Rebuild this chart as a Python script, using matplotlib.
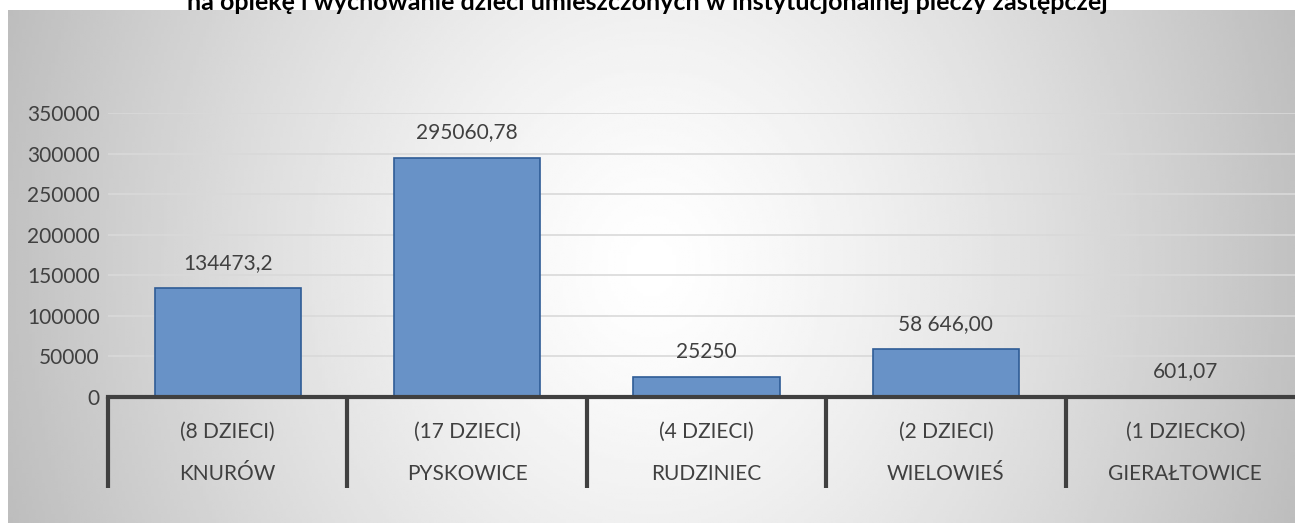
import matplotlib.pyplot as plt
import matplotlib.transforms as mtransforms
import numpy as np

# data
towns = ['KNURÓW', 'PYSKOWICE', 'RUDZINIEC', 'WIELOWIEŚ', 'GIERAŁTOWICE']
children = ['(8 DZIECI)', '(17 DZIECI)', '(4 DZIECI)', '(2 DZIECI)', '(1 DZIECKO)']
costs = [134473.2, 295060.78, 25250, 58646.00, 601.07]
cost_labels = ['134473,2', '295060,78', '25250', '58 646,00', '601,07']
yticks = [0, 50000, 100000, 150000, 200000, 250000, 300000, 350000]
title = 'na opiekę i wychowanie dzieci umieszczonych w instytucjonalnej pieczy zastępczej'

plt.rcParams['font.family'] = ['Lato', 'DejaVu Sans']
W, H = 1295, 525
fig = plt.figure(figsize=(W / 100, H / 100), dpi=100)

# radial gray background
bg = fig.add_axes([8 / W, 2 / H, 1 - 8 / W, (H - 12) / H])
xx, yy = np.meshgrid(np.linspace(-1, 1, 400), np.linspace(-1, 1, 200))
d = np.sqrt(xx ** 2 + 0.12 * yy ** 2)
shade = 1 - 0.24 * np.clip(d, 0, 1.2) ** 1.3
bg.imshow(shade, cmap='gray', vmin=0, vmax=1, aspect='auto', extent=[0, 1, 0, 1])
bg.axis('off')

fig.text(0.5, 1 - 2 / H, title, ha='center', va='center', fontsize=18,
         fontweight='bold', color='black')

x0, x1 = 108, 1305
ytop, ybot = 113, 397
ax = fig.add_axes([x0 / W, (H - ybot) / H, (x1 - x0) / W, (ybot - ytop) / H])
ax.patch.set_alpha(0)
xs = np.arange(len(towns))
ax.bar(xs, costs, width=0.61, color='#6892c7', edgecolor='#2f5c96', linewidth=1.2, zorder=3)
ax.set_xlim(-0.5, len(towns) - 0.5)
ax.set_ylim(0, 350000)
ax.set_yticks(yticks)
ax.set_yticklabels([str(v) for v in yticks], fontsize=15, color='#404040')
ax.tick_params(axis='y', length=0, pad=6)
ax.set_xticks([])
ax.grid(axis='y', color='#d9d9d9', linewidth=1.2, zorder=0)
for s in ['top', 'right', 'left']:
    ax.spines[s].set_visible(False)
ax.spines['bottom'].set_color('#404040')
ax.spines['bottom'].set_linewidth(3)
ax.spines['bottom'].set_zorder(4)

for x, v, lab in zip(xs, costs, cost_labels):
    ax.annotate(lab, (x, v), xytext=(0, 18), textcoords='offset points',
                ha='center', va='center', fontsize=15, color='#404040')

trans = mtransforms.blended_transform_factory(ax.transData, ax.transAxes)
h = ybot - ytop
for b in np.arange(-0.5, len(towns), 1.0):
    ax.plot([b, b], [0, -91 / h], transform=trans, color='#404040', lw=3,
            clip_on=False, solid_capstyle='butt')
for x, c, t in zip(xs, children, towns):
    ax.text(x, -35 / h, c, transform=trans, ha='center', va='center', fontsize=15, color='#404040')
    ax.text(x, -77 / h, t, transform=trans, ha='center', va='center', fontsize=15, color='#404040')

fig.savefig('out.png', dpi=100)
